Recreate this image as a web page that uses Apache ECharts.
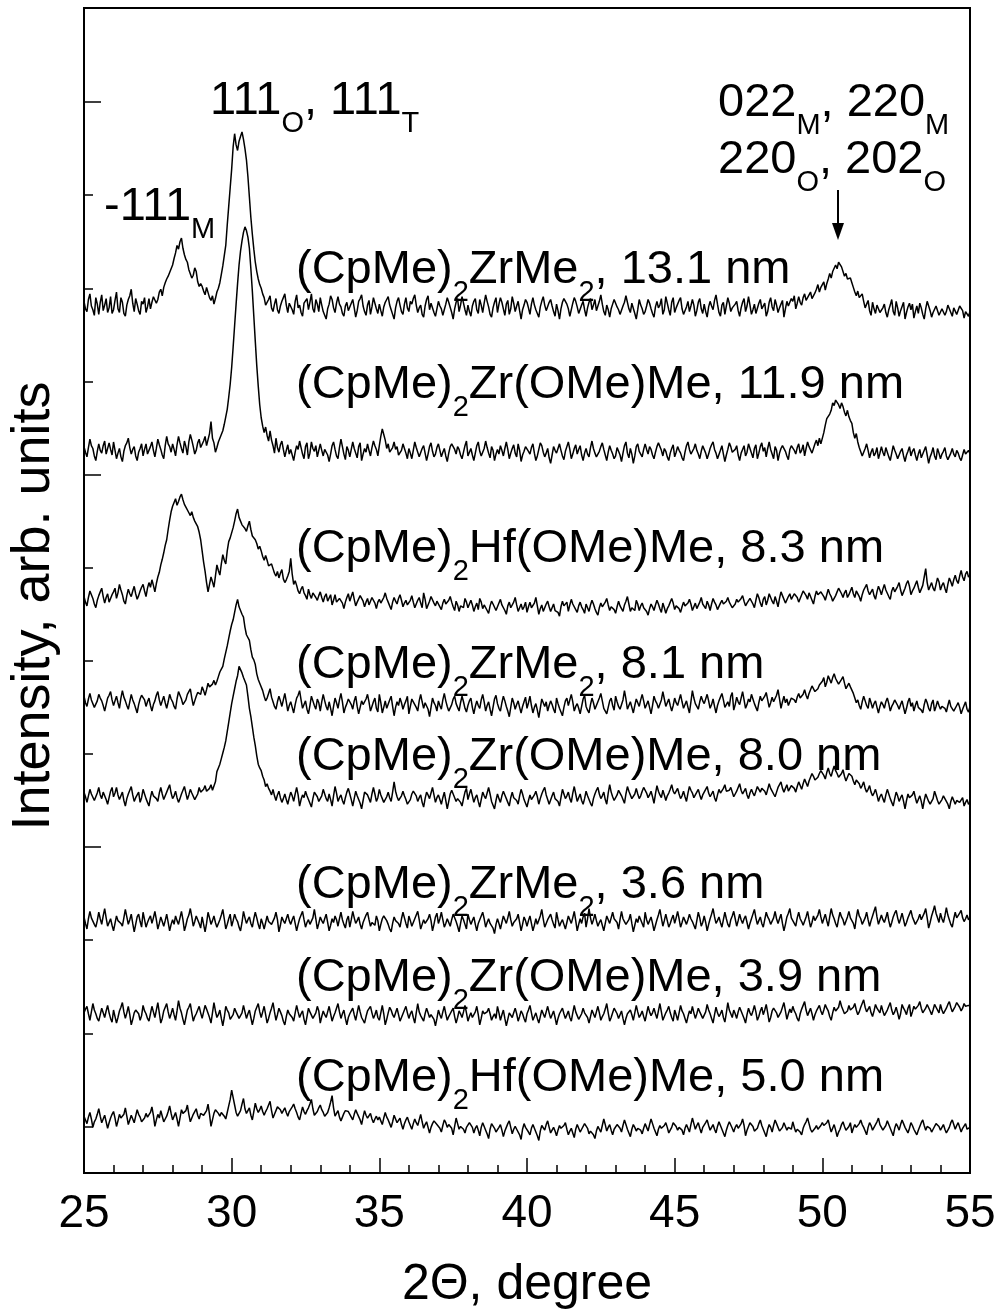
<!DOCTYPE html>
<html><head><meta charset="utf-8">
<script src="https://cdn.jsdelivr.net/npm/echarts@6.0.0/dist/echarts.min.js"></script>
<style>html,body{margin:0;padding:0;background:#fff}#c{width:1002px;height:1315px}</style>
</head><body><div id="c"></div>
<script>
// 2-theta sampling of the scans
const xStart = 25, xStep = 0.05;
// x axis tick labels
const xTicks = [25, 30, 35, 40, 45, 50, 55];
// trace names (subscripts as rich text tokens)
const sampleLabels = [
  '(CpMe){s|2}ZrMe{s|2}, 13.1 nm',
  '(CpMe){s|2}Zr(OMe)Me, 11.9 nm',
  '(CpMe){s|2}Hf(OMe)Me, 8.3 nm',
  '(CpMe){s|2}ZrMe{s|2}, 8.1 nm',
  '(CpMe){s|2}Zr(OMe)Me, 8.0 nm',
  '(CpMe){s|2}ZrMe{s|2}, 3.6 nm',
  '(CpMe){s|2}Zr(OMe)Me, 3.9 nm',
  '(CpMe){s|2}Hf(OMe)Me, 5.0 nm'
];
const peakLabels = ['111{s|O}, 111{s|T}', '-111{s|M}', '022{s|M}, 220{s|M}', '220{s|O}, 202{s|O}'];
// vertical stacking offsets of each trace (arb. units)
const offsets = [930, 775, 616, 504, 404, 270, 169, 57];

// intensities relative to each trace's offset, 25.00 .. 55.00 deg, step 0.05 (one row per degree)
const zrMe2_131 = [
6,-2,-5,8,14,1,-3,-9,10,3,-8,5,13,-4,2,9,-6,-1,11,-7,
-3,7,16,-2,-6,10,5,-7,-10,2,8,12,19,4,-5,9,3,-4,-8,6,
3,10,-6,0,9,-2,5,11,13,4,8,16,19,12,21,26,30,33,37,41,
45,52,58,66,62,70,74,63,56,51,48,40,38,31,34,42,38,27,22,25,
22,17,13,21,20,10,7,12,3,9,16,20,26,35,44,55,66,88,108,128,
148,172,186,174,168,178,183,188,180,170,158,140,118,96,78,62,48,38,30,24,
20,14,10,2,4,8,12,-1,-5,3,9,-3,-7,1,6,10,14,2,-6,4,
5,-3,-8,6,13,-1,2,-6,-10,4,6,9,-3,5,14,-2,-6,8,3,-5,
10,2,-5,-9,-13,-2,3,12,8,-1,-6,4,11,3,0,-7,-10,1,5,-4,
-3,4,8,-1,-11,-4,6,9,13,1,-5,-9,2,7,-8,0,10,4,-2,-7,
3,-4,-10,0,5,8,11,2,-3,-8,-13,-1,6,10,2,-5,-8,3,10,-1,
-5,6,3,9,13,2,-6,-1,2,-8,-11,1,8,12,-3,4,5,-6,-10,-2,
6,1,-2,-9,-8,3,10,5,3,-6,-13,-2,5,9,-5,2,11,4,-3,-9,
2,-5,-10,1,6,9,-3,-7,8,2,-6,4,13,6,0,-8,-11,-1,5,10,
-6,3,10,5,-2,-9,3,7,-8,-2,11,4,-5,1,6,-4,-13,-3,2,8,
5,-1,-8,3,10,2,-3,-7,-11,0,6,11,2,-4,-6,5,8,1,-5,-10,
3,-4,-13,-2,5,9,11,3,-2,-10,-8,4,10,6,0,-7,-6,2,6,-3,
-10,-1,5,9,-3,2,8,-4,-6,6,13,3,-5,-9,2,-3,-11,-2,3,8,
6,0,-3,-8,-10,1,5,12,10,-2,-6,4,3,-7,-13,-3,8,2,-2,-8,
-5,1,8,4,-2,-7,-11,0,6,-1,2,9,-8,-3,11,4,-3,-9,5,10,
-6,-1,3,7,10,-2,-8,-4,0,6,-5,1,8,2,-10,-4,5,9,-2,-7,
3,-5,-11,0,6,1,-3,7,13,3,-6,-10,2,5,-8,1,10,4,-5,-1,
-2,3,6,-4,-10,-1,5,9,-5,1,11,2,-8,-3,3,-7,-6,4,8,-2,
-3,4,-10,-5,5,10,0,-4,8,2,-6,-1,3,7,-11,-2,6,1,2,9,
6,12,-2,4,11,5,2,10,14,7,5,13,16,9,8,15,19,24,16,21,
24,27,18,25,30,36,31,38,40,45,41,48,50,43,38,33,36,30,28,31,
26,21,16,12,17,10,8,14,6,-1,3,7,-4,-9,5,-2,-7,2,0,-6,
-8,-1,3,-6,-11,-3,2,8,-5,-9,6,-1,-10,-4,-2,5,-13,-6,0,4,
-3,3,-12,-5,1,-7,4,-1,-8,-13,-2,6,5,-4,-11,-6,-5,1,2,-9,
-8,-2,0,-9,-5,2,4,-6,-10,-1,-2,-8,-7,1,3,-4,-12,-5,-3,-10,
-5];
const zrOMe_119 = [
5,-1,-6,4,13,6,3,-5,-10,0,8,1,-2,6,11,-3,-5,9,2,-4,
10,1,-8,-2,3,-6,-11,0,6,9,14,4,-3,2,5,-5,-10,-1,3,8,
-5,2,8,-3,-2,5,10,1,-6,3,13,7,2,-4,-8,6,16,8,5,-1,
8,2,-5,7,16,9,3,-2,11,5,-4,10,18,12,5,-3,1,9,13,4,
3,11,16,6,7,19,32,14,9,-1,4,10,14,18,22,29,37,45,58,72,
90,112,135,158,180,200,215,226,235,241,237,230,218,196,172,145,118,92,70,50,
36,27,20,26,17,11,22,12,6,-2,14,4,-1,7,11,2,-6,1,7,-3,
2,-4,-10,-1,6,2,11,4,-3,-8,5,9,-8,-2,10,3,0,6,-6,1,
8,1,-5,2,3,-4,-11,-3,6,10,2,-5,-8,4,13,5,-3,-9,5,1,
-6,2,10,3,-2,-7,5,9,-10,-3,3,-1,8,1,-5,4,11,6,2,-5,
6,16,24,18,12,3,8,-1,-3,4,10,2,5,-4,-6,1,8,3,-2,-8,
3,-2,-8,1,10,4,2,-6,-5,3,6,-2,-10,-3,5,9,0,-6,-3,4,
8,1,-6,-1,3,-5,-11,-2,5,8,10,2,-3,5,2,-4,-8,-1,6,11,
-5,-1,3,-4,-10,-2,6,10,0,-5,-6,3,11,4,-2,-7,5,1,-10,-3,
2,-3,6,1,-5,3,10,2,-8,-2,3,7,-2,-6,8,1,-11,-4,0,5,
5,0,-3,4,8,-2,-10,-5,2,9,6,-1,-6,-2,3,-7,-13,-4,5,1,
-2,3,8,1,-5,-9,0,5,10,2,-8,-3,3,7,-3,2,6,-4,-10,-2,
3,-3,-6,4,11,3,-2,-6,-8,0,5,9,2,-4,-10,-1,6,1,-3,-8,
-5,4,2,-4,-11,-2,6,10,-2,-7,3,-3,-13,-5,5,8,0,-3,-6,2,
8,2,-3,5,2,-4,-8,-1,5,9,10,1,-5,3,0,-6,-10,-2,3,7,
-6,-1,5,1,-2,-7,-10,-1,6,10,2,-3,-5,3,8,1,-3,-8,0,6,
5,-2,-8,-3,3,7,10,2,-2,-8,-6,1,6,-3,-11,-4,2,9,5,-1,
-3,2,6,-4,-10,-2,2,6,-5,-1,8,3,-2,-7,3,7,-8,-2,5,9,
0,4,-6,3,10,2,-3,-8,5,1,-10,-2,3,6,8,0,-5,-9,2,6,
6,1,-3,4,8,-2,1,7,-5,3,10,5,4,-2,0,8,12,6,14,8,
10,20,28,35,33,40,44,52,49,55,54,50,46,52,48,42,38,44,37,33,
30,20,14,19,10,4,2,-5,-4,3,8,1,-7,-1,3,-5,-2,4,-8,-2,
5,-1,-5,4,2,-6,-10,-2,6,1,-3,-8,-8,0,3,-5,-11,-4,0,5,
-5,0,3,-4,-10,-3,2,-7,-6,1,5,-4,-13,-6,-2,4,-5,-9,3,-2,
-8,-3,0,4,-5,-9,-11,-2,3,-3,-6,1,-2,-7,-10,-4,2,-3,-5,1,
-3];
const hfOMe_83 = [
3,-3,-7,2,9,5,1,-5,-9,-1,4,8,12,3,-4,2,6,-3,-2,5,
8,12,1,7,16,10,5,-2,-5,4,11,6,3,9,14,6,0,4,9,13,
16,9,3,12,18,13,21,15,8,17,24,29,37,43,50,58,64,75,85,94,
100,104,108,101,105,110,113,107,102,99,97,93,90,94,88,84,81,78,72,64,
52,40,30,18,8,16,24,19,13,25,37,31,26,38,48,42,38,52,62,66,
68,77,84,92,97,88,84,80,81,76,73,79,84,75,68,70,64,60,54,57,
52,46,42,47,42,36,34,38,33,28,25,30,23,28,32,22,18,21,25,30,
44,27,16,20,15,9,6,11,14,7,4,0,11,5,1,7,9,2,-1,4,
8,2,-3,3,6,-2,0,5,-6,-1,5,-3,-5,1,3,-4,-10,-3,2,6,
-2,3,8,0,-7,-3,-1,4,6,-2,-8,-3,1,-6,-5,2,4,-4,-10,-3,
0,-4,-6,2,7,1,-3,-7,-11,-3,2,-2,-5,1,5,-1,-8,-4,-1,-6,
-6,-1,4,-3,-9,-5,-1,2,-4,-9,7,0,-10,-6,-2,3,1,-4,-7,-2,
-3,-8,-11,-4,0,-5,-7,-1,3,-3,-8,-12,-2,-6,-13,-7,-5,-9,1,-3,
-9,-5,-1,-6,-13,-8,-4,-11,1,-3,-10,-6,-5,-12,-15,-7,-2,-5,-7,-12,
-11,-4,0,-6,-8,-12,-16,-7,-3,-9,-10,-3,2,-6,-13,-9,-5,-11,-8,-3,
-14,-8,-3,-9,-10,-4,2,-7,-16,-10,-6,-13,-11,-5,-2,-8,-13,-9,-5,-12,
-10,-14,-18,-8,-2,-7,-8,-3,-13,-6,0,-5,-6,-11,-14,-7,-3,-8,-11,-15,
-5,-9,-13,-6,-1,-5,-10,-14,-17,-9,-4,-8,-9,-3,1,-6,-12,-8,-7,-11,
-15,-8,-2,-7,-10,-13,-6,-2,3,-5,-13,-9,-7,-12,-1,-5,-12,-7,-4,-9,
-9,-13,-17,-10,-5,-8,-12,-6,-1,-5,-10,-14,-4,-9,-15,-10,-7,-3,1,-4,
-11,-7,-6,-10,-14,-8,-3,-7,-9,-4,0,-5,-12,-8,-4,-10,-8,-3,2,-5,
-7,-10,-2,-6,-12,-5,1,-3,-6,-11,-10,-4,-1,-5,-7,-2,2,-3,-4,-9,
-10,-5,0,-3,-5,1,4,-2,-7,-4,-2,1,3,-5,-9,-1,6,2,-4,-8,
0,3,-6,-1,6,2,-2,-5,3,-2,-8,1,8,4,2,-4,-3,3,6,0,
1,6,8,2,-3,1,5,9,11,4,0,7,6,-1,-5,3,9,5,3,8,
7,3,-1,5,11,6,3,-2,-3,4,8,12,13,6,2,7,10,2,5,9,
13,6,2,9,8,3,-2,5,10,13,16,9,5,7,11,4,0,8,14,10,
5,11,16,10,8,3,0,9,13,8,7,14,18,10,4,8,12,17,20,14,
5,9,12,16,20,13,7,11,15,24,33,18,10,14,18,12,9,16,23,19,
10,15,18,12,7,16,23,19,14,21,26,20,17,25,31,24,20,27,30,24,
26];
const zrMe2_81 = [
8,1,-3,5,11,4,2,-4,-6,3,10,6,3,-2,-8,-1,6,9,13,4,
-2,3,8,1,-5,6,14,7,3,-2,-6,2,10,4,0,-5,-10,-1,5,9,
11,4,-3,2,6,-2,-8,-1,3,9,13,4,-2,3,8,1,-5,2,10,5,
2,-3,-6,5,13,9,5,-1,-3,4,10,13,16,6,-2,3,8,12,14,10,
18,14,9,15,22,18,16,21,25,20,24,29,34,37,40,48,55,62,70,78,
85,90,98,106,112,104,100,96,93,82,74,72,68,58,50,47,42,32,26,22,
20,14,8,3,6,11,16,7,2,-3,-6,2,8,3,-3,4,11,2,-8,-2,
2,-4,-10,-1,6,9,14,4,-5,-1,3,-6,-11,-2,8,3,-2,-6,5,1,
-8,2,10,3,-3,-7,2,-5,-13,-3,6,1,-5,4,11,2,-10,-4,0,5,
5,-1,-6,3,8,-3,-11,-4,3,-1,-2,5,10,2,-8,-3,2,6,-5,-9,
10,1,-10,-4,3,-5,-3,4,8,-3,-13,-4,2,-2,6,1,-6,-1,3,8,
-11,-3,5,2,0,-4,-8,3,10,2,-5,1,3,-6,-14,-4,6,1,-2,-8,
3,-2,-6,4,11,3,-3,-8,-10,-1,5,8,0,-4,-8,1,8,2,-5,-9,
-2,3,6,-4,-11,-3,3,-2,-5,4,10,2,-8,-2,2,-6,-13,-4,5,9,
0,-5,-8,1,8,3,-3,-8,-14,-4,6,1,-6,-1,3,-4,-10,-3,2,7,
-5,1,8,-2,-10,-4,0,-7,-15,-5,5,1,-3,2,-8,-2,3,-1,-6,-10,
6,0,-5,-9,-13,-4,3,6,-2,4,10,2,-8,-3,0,-5,-11,-3,5,9,
-3,-7,-10,-1,6,1,-6,-2,2,6,11,3,-5,-8,-11,-4,3,6,-2,-7,
8,2,-3,-6,-8,4,14,5,-6,-2,2,-4,-10,-2,5,1,-3,4,10,3,
-5,-1,3,-4,-11,-2,8,3,0,-5,-6,4,13,5,-3,1,5,-2,-8,-2,
6,1,-2,4,10,2,-5,-1,3,-4,-10,2,14,6,0,-3,-6,2,8,3,
0,5,10,3,-5,-1,5,-3,-10,-2,3,7,11,4,-4,-1,2,-3,8,12,
-7,-1,7,2,-1,6,13,4,-5,-1,5,2,10,5,0,-4,-8,1,8,3,
3,8,12,4,-4,1,7,2,2,9,15,5,-5,2,8,1,5,-2,0,6,
8,4,1,7,11,6,4,10,15,9,5,11,12,19,17,13,11,16,20,18,
24,28,18,23,30,26,22,28,32,27,24,21,20,26,29,22,16,19,22,18,
16,11,6,1,4,-2,-6,2,8,3,-2,-5,6,1,-5,0,3,-4,-10,-3,
2,-1,-5,2,6,0,-8,-3,0,4,5,-2,-6,-1,3,-4,-11,-5,2,6,
-3,1,-8,-2,3,-4,-2,-7,-10,-1,5,1,-5,-8,0,4,-8,-3,3,-2,
-6,-3,-1,-5,-9,-2,4,-3,-4,-8,-8,-2,1,-4,-11,-6,-2,2,-6,-9,
-3];
const zrOMe_80 = [
5,0,-6,1,8,3,2,-4,-5,4,10,2,-2,5,3,-3,-8,-1,6,10,
0,4,10,2,-3,1,5,-4,-10,-2,3,7,11,2,-5,-1,2,5,-6,-1,
8,3,-2,-6,-10,-1,6,1,3,-2,-5,4,10,3,-3,1,5,9,13,4,
-2,1,6,-1,-6,-2,3,7,11,4,-3,2,8,4,2,-3,-5,3,10,5,
3,8,12,6,4,9,13,7,6,16,27,31,35,41,47,53,60,70,80,90,
100,108,116,124,130,140,142,133,128,126,120,108,95,86,75,64,55,44,35,31,
28,22,18,11,14,9,6,2,8,1,-4,2,6,-1,-6,-2,3,-3,-8,-1,
5,1,-5,3,10,2,-10,-3,2,-1,6,1,-3,-7,-11,-2,5,3,0,-5,
-6,1,8,3,-2,-5,3,-3,-10,1,11,4,-5,-1,2,-4,-8,-1,5,9,
3,-3,-10,-2,6,1,-3,-7,-13,-4,5,7,2,-2,-6,3,10,3,-5,-1,
8,2,-2,-6,-8,0,5,-1,-5,5,16,6,0,-4,-6,1,6,1,-3,-8,
-10,-3,3,6,8,1,-5,-1,2,-6,-11,-2,5,2,-2,4,10,2,-6,-1,
2,-3,-8,-1,5,-4,-13,-5,3,7,6,-1,-5,-2,0,-6,-10,-2,5,9,
-3,3,8,1,-6,-1,2,-5,-11,-3,5,1,-2,4,10,3,-5,-9,-13,-4,
3,-2,-6,1,6,2,-2,-6,-10,-1,5,-1,0,-4,-8,1,8,3,-3,-7,
-11,-4,2,-3,-5,2,6,0,-8,-2,3,7,10,2,-3,-8,-6,1,5,-2,
0,-5,-10,-1,8,3,-2,1,5,-2,-6,4,11,3,-5,-1,3,-4,-8,-2,
6,1,-3,-7,-10,-2,3,7,10,3,-2,1,5,-3,-8,4,13,5,0,-4,
-5,2,7,4,1,-3,-7,3,11,6,2,-2,-4,3,9,3,-2,1,6,10,
10,4,-1,2,6,0,-7,3,12,6,2,-1,7,2,-4,1,4,8,13,6,
3,6,9,3,-2,1,6,0,-5,4,11,7,4,-1,0,5,8,2,-3,2,
5,8,11,4,0,3,6,-1,-5,2,8,4,2,9,13,6,4,7,10,5,
0,3,6,10,14,7,3,5,9,2,-2,4,8,4,1,6,11,8,5,9,
11,6,2,8,14,9,6,3,0,5,10,13,16,9,5,9,13,6,8,12,
13,9,5,11,16,12,8,14,19,15,11,17,21,25,22,18,16,21,25,28,
27,23,19,26,31,25,22,28,33,28,25,21,20,25,29,22,17,21,25,23,
22,17,13,18,20,14,9,12,16,9,5,8,12,5,1,4,8,2,-5,0,
3,-2,-6,2,8,3,-2,-6,-10,-2,5,1,-5,-1,2,-5,-13,-4,3,-1,
-2,2,6,-1,-7,-3,1,-5,-13,-4,3,-1,-5,-8,-10,-2,6,1,-4,-8,
-7,-3,1,-2,-3,-8,-13,-5,0,-4,-8,-4,-2,-6,-5,-1,-10,-6,-3,-8,
-6];
const zrMe2_36 = [
5,-2,-8,3,11,4,2,-3,-6,1,10,3,-3,6,14,4,-5,-1,3,-4,
-10,-2,6,1,2,-2,-5,4,13,5,-3,2,8,-2,-11,-3,5,8,0,-6,
10,2,-6,-1,3,6,-2,4,11,2,-8,-2,5,0,-5,1,8,-1,-10,-3,
2,-3,6,1,-3,4,11,2,-10,-4,3,7,14,5,-5,0,6,2,-2,-7,
5,-3,-11,-2,10,4,-3,1,6,-1,-6,-2,2,7,13,3,-8,-3,3,8,
-5,1,8,3,0,-6,-10,-1,11,4,-2,2,5,-2,-6,3,10,4,-3,-8,
3,-2,-8,-1,6,0,2,-3,-5,4,10,2,-11,-4,5,1,-2,3,8,1,
-3,2,6,-2,-10,-3,3,7,11,2,-6,-1,2,-3,-5,4,13,3,-8,-2,
5,1,-2,3,8,-1,-10,-4,3,-1,6,2,-5,3,10,2,-3,-7,2,6,
-6,2,11,4,-2,1,5,-3,-8,-1,3,7,10,2,-5,-1,0,-4,6,1,
-10,-3,3,6,8,1,-3,-8,-11,-2,5,1,2,-2,-6,3,10,4,-2,-7,
6,1,-5,-1,3,7,11,2,-8,-3,2,-2,-3,3,8,1,-10,-3,5,9,
-2,3,10,2,-6,-2,3,-1,-5,2,8,4,0,-5,-11,-2,6,2,-3,-8,
8,2,-3,1,5,-3,-10,-2,2,6,10,3,-6,-1,3,-2,-2,-7,-13,-3,
3,-2,-8,-1,6,2,-2,4,11,2,-5,-1,0,3,8,-1,-10,-3,5,1,
-5,1,6,-2,-10,-4,3,-3,-2,6,13,3,-6,-2,2,5,8,2,-3,-7,
10,2,-5,-1,2,-3,-8,-1,6,2,-2,4,11,1,-10,-3,3,-2,5,9,
-6,3,14,4,-3,2,8,1,-5,-1,2,-4,-10,-2,6,2,-2,4,10,3,
5,-1,-8,2,11,3,0,-3,-5,2,8,-2,-11,-4,3,-1,6,2,-2,-6,
10,2,-3,1,5,-2,-10,-4,2,7,13,4,-5,1,8,1,-6,-2,3,7,
-2,4,11,3,-6,-1,5,1,-3,2,8,3,0,-4,-8,1,10,4,-5,-1,
6,-1,-10,-3,3,8,14,5,-2,1,5,-1,-6,2,10,3,-3,-6,2,6,
11,3,-5,1,8,2,-2,3,6,-1,-8,-2,3,8,13,4,-3,1,5,-2,
-6,2,10,5,2,-3,-5,4,11,3,-2,3,8,-2,-10,-3,5,9,14,4,
3,-2,-5,4,10,3,0,-4,-3,5,11,2,-6,-1,6,1,2,7,13,5,
-2,3,8,1,-5,5,14,7,3,-2,-6,3,10,5,2,-4,-3,5,11,4,
5,-2,-8,4,13,6,3,-3,-2,4,10,2,-5,1,6,11,16,5,-3,2,
7,2,-1,4,10,1,-6,-1,5,9,12,4,-2,3,9,2,-5,-1,4,8,
12,5,1,-3,-4,3,8,2,3,9,14,4,-7,-1,6,11,17,9,4,-1,
9,3,-1,6,15,7,2,-3,-6,3,10,4,5,9,12,4,0,3,7,2,
4];
const zrOMe_39 = [
3,7,10,2,-5,4,13,6,2,-3,-6,1,8,3,-2,5,11,3,-3,-7,
6,-1,-8,-2,5,9,14,4,-3,3,10,1,-10,-4,3,6,8,2,-5,0,
11,5,2,-3,-6,2,10,4,-2,6,14,3,-8,-3,5,9,13,4,-3,2,
8,1,-5,5,16,8,3,-4,-10,-2,6,9,13,3,-6,-1,2,6,10,3,
-3,4,11,7,5,-2,-8,3,14,5,-2,1,6,-3,-11,-2,10,6,3,-4,
-6,1,8,4,2,-3,-5,3,11,4,-3,2,6,-2,-10,-3,5,9,13,4,
-2,4,10,1,-8,-3,3,8,14,4,-5,1,8,4,0,-6,-10,-1,6,2,
3,-2,-6,3,11,4,-2,2,5,-4,-10,-1,8,4,2,-3,-5,3,10,5,
-8,-1,5,1,-2,4,10,2,-6,-1,3,8,13,4,-3,2,6,-3,-10,-2,
2,5,8,1,-5,3,11,4,-2,-5,-8,-1,5,7,10,3,-3,1,6,-2,
-5,3,11,2,-10,-4,3,9,6,1,-2,3,8,1,-6,-2,2,6,10,3,
-3,2,5,-2,-8,3,13,4,0,-3,-6,2,8,3,-2,1,3,-4,-11,-3,
6,1,-3,4,10,2,-5,-1,2,5,8,-1,-8,-2,5,2,-2,4,11,3,
-6,-1,3,-2,-2,4,10,1,-10,-3,5,2,0,4,8,2,-5,-1,2,-3,
10,3,-5,1,6,-3,-11,-4,3,1,-2,3,8,2,-6,-1,5,2,-3,-7,
2,6,11,3,-5,-1,3,-3,-8,-1,6,2,-2,4,10,3,-3,1,5,-2,
-10,-3,2,4,8,2,-3,1,5,-2,-6,3,11,4,0,-4,-5,2,8,3,
3,-2,-8,-1,6,2,-2,4,10,3,-5,-1,2,7,13,3,-6,-2,3,8,
8,2,-3,1,5,-3,-10,-3,2,4,6,1,-5,3,11,4,-2,1,5,-1,
-6,2,10,4,0,3,8,2,-3,5,13,4,-5,-1,3,6,10,3,-2,-6,
6,1,-5,3,11,5,2,-3,-8,-1,5,2,10,3,-3,2,8,4,2,-3,
-4,4,12,6,2,-3,-8,1,9,3,-1,2,6,-2,-7,3,14,6,2,-2,
6,2,-3,4,9,5,3,-3,-8,1,8,3,0,5,11,4,-5,-1,5,9,
1,6,12,3,-7,-2,5,8,9,3,-2,1,4,9,14,5,-4,2,7,3,
10,5,2,-3,-6,2,7,11,15,6,0,4,8,2,-5,1,5,8,11,5,
1,6,12,8,5,-1,-5,3,9,5,3,9,16,10,6,2,0,5,11,6,
5,9,13,6,1,4,9,13,17,9,4,6,10,3,-1,5,12,8,7,3,
11,5,0,3,6,10,14,6,1,4,9,3,-4,2,12,8,5,1,8,12,
-1,4,10,7,6,11,15,8,3,5,8,12,13,5,1,6,12,9,7,3,
12,6,2,5,8,12,15,9,4,7,10,14,16,9,5,8,13,10,8,11,
10];
const hfOMe_50 = [
4,0,-4,3,8,1,-8,-2,1,6,12,4,-3,1,5,-2,-9,-3,2,6,
9,2,-7,-1,6,2,0,6,13,4,-5,0,5,1,-3,4,11,6,3,-2,
-4,2,7,3,1,8,14,5,-7,0,6,2,10,4,-2,1,4,9,15,7,
0,4,8,1,-7,2,11,7,5,10,16,6,-2,2,6,9,12,5,1,7,
9,5,3,10,17,6,-7,0,7,11,13,7,4,8,10,4,1,8,15,22,
32,24,16,8,4,6,10,17,23,12,7,10,13,5,0,9,18,12,8,11,
15,9,5,9,12,16,20,10,2,6,10,14,16,11,7,10,13,8,4,9,
11,14,17,12,8,3,0,7,14,9,6,10,13,17,22,12,5,7,9,13,
16,11,8,4,2,8,13,19,26,13,4,6,10,3,-1,3,7,10,12,9,
8,3,0,6,11,7,5,0,-5,3,10,5,2,4,7,1,-3,1,4,0,
3,-1,-5,2,8,3,0,-4,-8,-2,5,1,-3,-1,2,-5,-10,-4,0,3,
-2,-6,-10,-4,1,-3,-6,0,6,-2,-9,-5,-2,-8,-14,-8,-4,-1,1,-5,
-5,-9,-13,-6,0,-3,-8,-5,-3,-9,-16,-7,2,-4,-10,-7,-5,-10,-14,-8,
-7,-3,-1,-8,-14,-9,-6,-11,-17,-8,-3,-7,-11,-15,-20,-10,-4,-6,-9,-13,
-13,-8,-5,-11,-18,-12,-8,-4,-1,-8,-15,-10,-7,-10,-12,-16,-21,-10,-4,-8,
-9,-13,-16,-9,-5,-9,-13,-17,-22,-12,-6,-8,-11,-5,-1,-8,-14,-11,-8,-12,
-17,-11,-6,-9,-11,-6,-3,-10,-16,-12,-9,-14,-19,-10,-5,-9,-13,-10,-8,-4,
-2,-9,-15,-12,-10,-16,-20,-12,-7,-10,-13,-6,1,-5,-12,-8,-5,-11,-16,-10,
-8,-5,-4,-9,-13,-6,0,-5,-10,-14,-18,-10,-5,-8,-12,-9,-7,-11,-15,-9,
-4,-8,-12,-5,1,-4,-9,-13,-17,-10,-6,-9,-11,-6,-3,-8,-14,-11,-8,-3,
-2,-7,-11,-8,-6,-11,-16,-9,-5,-9,-13,-5,2,-4,-10,-6,-3,-9,-14,-8,
-8,-3,0,-6,-11,-8,-5,-10,-14,-7,-2,-6,-10,-14,-18,-11,-6,-2,-3,-9,
-13,-8,-5,-9,-10,-4,1,-6,-17,-11,-7,-3,-2,-7,-12,-14,-9,-4,0,-6,
-10,-14,-18,-10,-5,-8,-13,-6,0,-4,-8,-12,-14,-8,-3,-7,-11,-8,-6,-10,
-2,-8,-13,-10,-8,-13,-16,-9,-5,-2,2,-4,-10,-13,-14,-9,-6,-10,-11,-6,
-3,-6,-8,-3,0,-7,-13,-9,-5,-11,-18,-13,-10,-5,-2,-7,-11,-9,-7,-3,
-14,-9,-5,-8,-10,-4,0,-5,-8,-12,-16,-8,-3,-6,-11,-8,-7,-2,2,-5,
-8,-11,-12,-6,-1,-5,-9,-13,-17,-9,-4,-7,-11,-5,0,-4,-8,-11,-14,-9,
-3,-6,-10,-13,-16,-11,-7,-3,0,-6,-11,-7,-5,-9,-13,-10,-8,-4,-2,-7,
-11,-8,-5,-10,-14,-11,-8,-3,0,-5,-10,-6,-3,-8,-13,-9,-7,-4,-10,-12,
-8];
const traces = [zrMe2_131, zrOMe_119, hfOMe_83, zrMe2_81, zrOMe_80, zrMe2_36, zrOMe_39, hfOMe_50];
// y-axis tick positions (no labels on the reference)
const yMinorTicks = [50, 150, 250, 450, 550, 650, 850, 950, 1050];
const yMajorTicks = [350, 750, 1150];

const FONT = 'Liberation Sans, Arial, sans-serif';
const subStyle = { s: { fontSize: 29, lineHeight: 29, verticalAlign: 'bottom', fontFamily: FONT, fill: '#000' } };

function textEl(str, x, y) {
  return {
    type: 'text', x: x, y: y, silent: true,
    style: {
      text: str, rich: subStyle, fontSize: 47, lineHeight: 75, fontFamily: FONT,
      fill: '#000', align: 'left', verticalAlign: 'middle'
    }
  };
}

const series = traces.map((arr, i) => ({
  type: 'line', name: sampleLabels[i].replace(/\{s\|(.)\}/g, '$1'),
  showSymbol: false, symbol: 'none', animation: false,
  lineStyle: { color: '#000', width: 1.5 },
  data: arr.map((v, k) => [+(xStart + k * xStep).toFixed(2), offsets[i] + v])
}));

const labelX = 296;
const labelY = [270, 385, 549, 665, 757, 885, 978, 1078];
const graphics = sampleLabels.map((t, i) => textEl(t, labelX, labelY[i]));
graphics.push(textEl(peakLabels[0], 210, 101));
graphics.push(textEl(peakLabels[1], 104, 207));
graphics.push(textEl(peakLabels[2], 718, 103));
graphics.push(textEl(peakLabels[3], 718, 160));
graphics.push({ type: 'line', silent: true, shape: { x1: 838, y1: 190, x2: 838, y2: 226 }, style: { stroke: '#000', lineWidth: 2 } });
graphics.push({ type: 'polygon', silent: true, shape: { points: [[832, 223], [844, 223], [838, 240]] }, style: { fill: '#000' } });
// y axis title
graphics.push({
  type: 'text', x: 34, y: 606, rotation: Math.PI / 2, silent: true,
  style: { text: 'Intensity, arb. units', fontSize: 54, fontFamily: FONT, fill: '#000', align: 'center', verticalAlign: 'middle' }
});

const chart = echarts.init(document.getElementById('c'), null, { renderer: 'canvas' });
chart.setOption({
  backgroundColor: '#fff',
  animation: false,
  grid: { left: 84, right: 32, top: 8, bottom: 140, show: true, borderColor: '#000', borderWidth: 2, backgroundColor: 'transparent' },
  xAxis: {
    type: 'value', min: xTicks[0], max: xTicks[xTicks.length - 1], interval: 5,
    axisLine: { lineStyle: { color: '#000', width: 2 } },
    axisTick: { inside: true, length: 15, lineStyle: { color: '#000', width: 1.5 } },
    minorTick: { show: true, splitNumber: 5, length: 8, lineStyle: { color: '#000', width: 1.5 } },
    splitLine: { show: false },
    axisLabel: { color: '#000', fontSize: 46, fontFamily: FONT, margin: 18 },
    name: '2Θ, degree', nameLocation: 'middle', nameGap: 87,
    nameTextStyle: { color: '#000', fontSize: 50, fontFamily: FONT }
  },
  yAxis: [{
    type: 'value', min: 0, max: 1251,
    axisLine: { show: true, lineStyle: { color: '#000', width: 2 } },
    axisTick: { show: true, inside: true, length: 9, customValues: yMinorTicks, lineStyle: { color: '#000', width: 1.5 } },
    axisLabel: { show: false },
    splitLine: { show: false }
  }, {
    type: 'value', min: 0, max: 1251, position: 'left',
    axisLine: { show: false },
    axisTick: { show: true, inside: true, length: 17, customValues: yMajorTicks, lineStyle: { color: '#000', width: 1.5 } },
    axisLabel: { show: false },
    splitLine: { show: false }
  }],
  series: series,
  graphic: graphics
});
</script>
</body></html>
